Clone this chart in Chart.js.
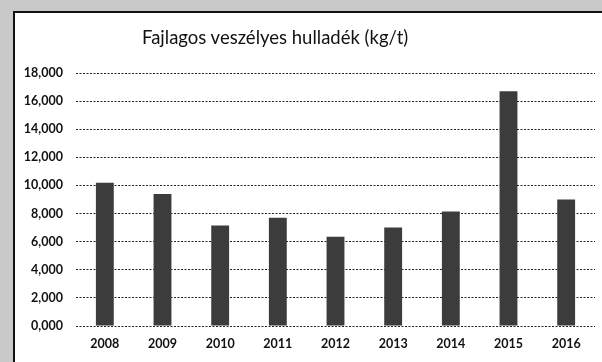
<!DOCTYPE html>
<html>
<head>
<meta charset="utf-8">
<script src="https://cdn.jsdelivr.net/npm/chart.js@4"></script>
<style>
  html, body { margin: 0; padding: 0; }
  body { width: 602px; height: 362px; background: #c9c9c9; position: relative; overflow: hidden; }
  #frame {
    position: absolute; left: 13px; top: 11px; right: 0; bottom: 0;
    background: #fff; border-left: 2px solid #111; border-top: 2px solid #111;
  }
  #graph { display: block; }
  #title {
    position: absolute; left: 127px; top: 13px;
    font: 18.5px Lato, "Open Sans", sans-serif; color: #111; white-space: nowrap;
  }
</style>
</head>
<body>
<div id="frame">
  <canvas id="graph" width="587" height="349"></canvas>
  <div id="title">Fajlagos veszélyes hulladék (kg/t)</div>
</div>
<script>
const years = ['2008', '2009', '2010', '2011', '2012', '2013', '2014', '2015', '2016'];
const wasteKgPerT = [10.2, 9.4, 7.15, 7.7, 6.35, 7.0, 8.15, 16.7, 9.0];
const yMax = 18;
const yStep = 2;

const FONT = 'Lato, "Open Sans", sans-serif';

// tick labels use decimal comma, three places: 0,000 ... 18,000
const fmt = v => v.toFixed(3).replace('.', ',');

new Chart(document.getElementById('graph'), {
  type: 'bar',
  data: {
    labels: years,
    datasets: [{
      data: wasteKgPerT,
      backgroundColor: '#3c3c3c',
      borderWidth: 0,
      barPercentage: 0.31,
      categoryPercentage: 1
    }]
  },
  options: {
    responsive: false,
    animation: false,
    layout: { padding: { top: 60, right: 7, bottom: 0, left: 0 } },
    plugins: {
      legend: { display: false },
      tooltip: { enabled: false },
      title: { display: false }
    },
    scales: {
      x: {
        afterFit: s => { s.height = 36; },
        grid: { display: false, drawTicks: false },
        border: { display: false },
        ticks: {
          color: '#111',
          padding: 10,
          font: { family: FONT, size: 12.5, weight: 'bold' }
        }
      },
      y: {
        min: 0,
        max: yMax,
        afterFit: s => { s.width = 61; },
        grid: {
          color: '#222',
          lineWidth: 1,
          drawTicks: false
        },
        border: { display: false, dash: [2, 1.5] },
        ticks: {
          stepSize: yStep,
          color: '#111',
          padding: 13,
          font: { family: FONT, size: 12.5, weight: 'bold' },
          callback: v => fmt(v)
        }
      }
    }
  }
});
</script>
</body>
</html>
